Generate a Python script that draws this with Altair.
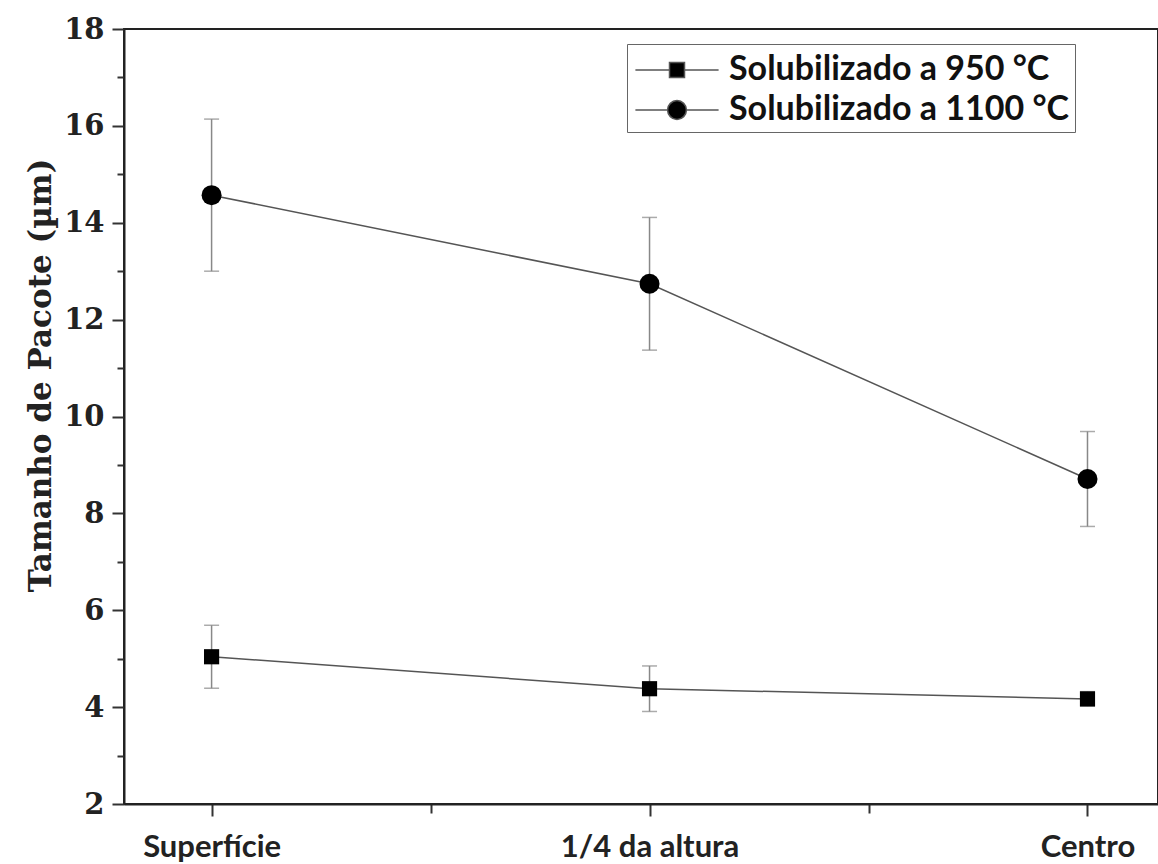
import altair as alt
import pandas as pd

# ---- data ----
positions = ["Superfície", "1/4 da altura", "Centro"]
position_index = [1, 2, 3]
series_names = ["Solubilizado a 950 °C", "Solubilizado a 1100 °C"]
mean_950 = [5.04, 4.38, 4.17]
err_950 = [0.65, 0.47, 0.15]
mean_1100 = [14.57, 12.74, 8.71]
err_1100 = [1.57, 1.37, 0.98]
y_ticks = list(range(2, 19))
x_ticks = [1, 1.5, 2, 2.5, 3]

rows = []
for name, means, errs in [(series_names[0], mean_950, err_950),
                          (series_names[1], mean_1100, err_1100)]:
    for p, i, m, e in zip(positions, position_index, means, errs):
        rows.append({"series": name, "pos": p, "idx": i, "mean": m,
                     "lo": m - e, "hi": m + e})
df = pd.DataFrame(rows)

label_expr = " : ".join(f"datum.value === {i} ? '{p}'" for i, p in zip(position_index, positions)) + " : ''"

x_enc = alt.X(
    "idx:Q",
    scale=alt.Scale(domain=[0.8, 3.161], nice=False, zero=False),
    axis=alt.Axis(
        values=x_ticks, labelExpr=label_expr, title=None, grid=False,
        labelFont="Lato", labelFontWeight="bold", labelFontSize=31, labelColor="#222",
        labelPadding=16, labelOverlap=False, labelFlush=False,
        tickColor="#333", tickWidth=2,
        tickSize={"condition": {"test": "datum.value % 1 === 0", "value": 12}, "value": 9},
        domainColor="#222", domainWidth=2,
    ),
)

y_axis = alt.Axis(
    values=y_ticks, labelExpr="datum.value % 2 === 0 ? datum.label : ''",
    grid=False, labelOverlap=False,
    labelFont="DejaVu Serif", labelFontWeight="bold", labelFontSize=29, labelColor="#222",
    labelPadding=8,
    tickColor="#333", tickWidth=2,
    tickSize={"condition": {"test": "datum.value % 2 === 0", "value": 12}, "value": 7},
    domainColor="#222", domainWidth=2,
    title="Tamanho de Pacote (µm)", titleFont="DejaVu Serif", titleFontWeight="bold",
    titleFontSize=31, titleColor="#222", titleX=-74, titleY=346, titleBaseline="alphabetic",
    titleAngle=-90, titleAlign="center",
)
y_scale = alt.Scale(domain=[2, 18], nice=False, zero=False)

base = alt.Chart(df)

err_rule = base.mark_rule(color="#888", strokeWidth=1.5).encode(
    x=x_enc, y=alt.Y("lo:Q", scale=y_scale, axis=y_axis), y2="hi:Q")
cap_lo = base.mark_tick(orient="horizontal", size=15, thickness=1.5, color="#888").encode(
    x="idx:Q", y="lo:Q")
cap_hi = base.mark_tick(orient="horizontal", size=15, thickness=1.5, color="#888").encode(
    x="idx:Q", y="hi:Q")

sq_path = "M-2.08,0H-0.375M0.375,0H2.08M-0.375,-0.375H0.375V0.375H-0.375Z"
ci_path = ("M-2.08,0H-0.47M0.47,0H2.08"
           "M0.47,0A0.47,0.47,0,1,1,-0.47,0A0.47,0.47,0,1,1,0.47,0Z")
shape_expr = f"datum.value === '{series_names[0]}' ? '{sq_path}' : '{ci_path}'"

lines = base.mark_line(strokeWidth=1.5).encode(
    x="idx:Q", y="mean:Q", order="idx:Q",
    color=alt.Color(
        "series:N",
        scale=alt.Scale(domain=series_names, range=["#555", "#555"]),
        legend=alt.Legend(
            title=None, orient="none", legendX=503, legendY=15, padding=5,
            strokeColor="#666", fillColor="white",
            labelFont="Lato", labelFontWeight="bold", labelFontSize=34, labelColor="#111",
            labelLimit=0, labelExpr="datum.label + '    '",
            symbolSize=1600, symbolOffset=24, labelOffset=31, rowPadding=2,
            symbolType=alt.ExprRef(expr=shape_expr),
            symbolFillColor="black", symbolStrokeWidth=1.5, symbolOpacity=1,
        ),
    ),
)

squares = base.transform_filter(alt.datum.series == series_names[0]).mark_point(
    shape="square", filled=True, opacity=1, color="black", size=230).encode(
    x="idx:Q", y="mean:Q")
circles = base.transform_filter(alt.datum.series == series_names[1]).mark_point(
    shape="circle", filled=True, opacity=1, color="black", size=400).encode(
    x="idx:Q", y="mean:Q")

chart = alt.layer(err_rule, cap_lo, cap_hi, lines, squares, circles).properties(
    width=1034, height=775,
    autosize=alt.AutoSizeParams(type="none"),
    padding={"left": 124, "top": 29, "right": 0, "bottom": 60},
    background="white",
).configure_view(stroke="#222", strokeWidth=2)

chart.save("out.html", embed_options={"renderer": "svg", "actions": False})
